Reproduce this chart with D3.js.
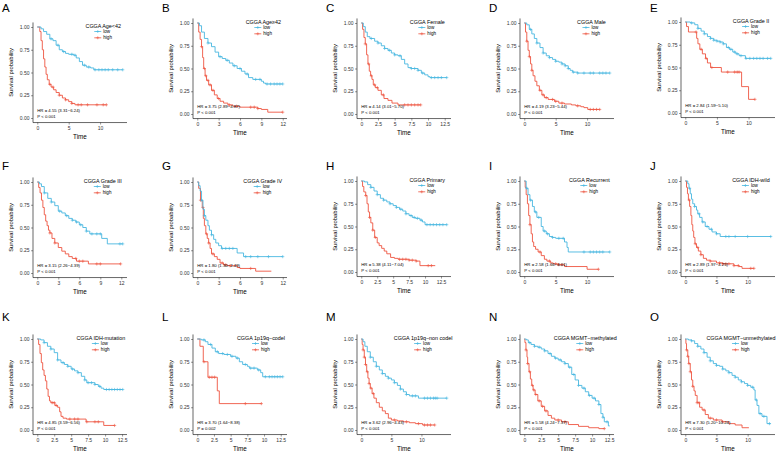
<!DOCTYPE html>
<html><head><meta charset="utf-8">
<script src="https://cdn.jsdelivr.net/npm/d3@7"></script>
<style>
html,body{margin:0;padding:0;background:#fff;}
text{font-family:"Liberation Sans",Arial,Helvetica,sans-serif;}
</style>
</head><body>
<svg id="chart" width="777" height="452"></svg>
<script>
const panelLetters = ["A","B","C","D","E","F","G","H","I","J","K","L","M","N","O"];
const legendTitles = ["CGGA Age<42","CGGA Age≥42","CGGA Female","CGGA Male","CGGA Grade II",
  "CGGA Grade III","CGGA Grade IV","CGGA Primary","CGGA Recurrent","CGGA IDH-wild",
  "CGGA IDH-mutation","CGGA 1p19q−codel","CGGA 1p19q−non codel","CGGA MGMT−methylated","CGGA MGMT−unmethylated"];
const hrLabels = ["HR = 4.55 (3.31−6.24)","HR = 3.75 (2.89−4.87)","HR = 4.14 (3.01−5.70)","HR = 4.19 (3.23−5.44)","HR = 2.84 (1.59−5.10)",
  "HR = 3.15 (2.26−4.39)","HR = 1.80 (1.30−2.49)","HR = 5.38 (4.11−7.04)","HR = 2.58 (1.66−4.01)","HR = 2.89 (1.97−4.25)",
  "HR = 4.85 (3.59−6.56)","HR = 3.70 (1.64−8.38)","HR = 3.62 (2.96−4.43)","HR = 5.58 (4.24−7.37)","HR = 7.30 (5.20−10.24)"];
const pLabels = ["P < 0.001","P < 0.001","P < 0.001","P < 0.001","P < 0.001",
  "P < 0.001","P < 0.001","P < 0.001","P < 0.001","P < 0.001",
  "P < 0.001","P = 0.002","P < 0.001","P < 0.001","P < 0.001"];
const groupNames = ["low","high"];
const yTicks = [0,0.25,0.5,0.75,1];
const t5 = [0,5,10], t3 = [0,3,6,9,12], t25 = [0,2.5,5,7.5,10,12.5];
const xTicks = [t5,t3,t25,t5,t5, t3,t3,t25,t5,t5, t25,t25,t5,t25,t5];

const lowCurves = [
 [[0,1],[0.6,0.98],[1.0,0.95],[1.5,0.92],[2.0,0.87],[2.5,0.85],[3.0,0.80],[3.5,0.75],[4.0,0.73],[4.5,0.71],[5.0,0.70],[5.8,0.69],[6.2,0.66],[6.7,0.62],[7.2,0.58],[7.8,0.56],[8.5,0.55],[9.0,0.53],[13.6,0.53]],
 [[0,1],[0.3,0.97],[0.6,0.90],[1.0,0.83],[1.5,0.78],[2.0,0.74],[2.5,0.68],[3.0,0.63],[3.5,0.61],[4.0,0.59],[4.5,0.56],[5.0,0.53],[5.6,0.50],[6.2,0.47],[6.7,0.44],[7.2,0.40],[7.8,0.38],[9.0,0.36],[9.3,0.34],[9.6,0.33],[12.0,0.33]],
 [[0,1],[0.3,0.96],[0.6,0.90],[0.9,0.85],[1.3,0.83],[2.0,0.80],[2.5,0.78],[3.0,0.75],[3.5,0.72],[4.0,0.70],[4.5,0.67],[5.0,0.65],[5.5,0.64],[6.0,0.60],[6.5,0.55],[7.0,0.51],[7.5,0.50],[8.5,0.48],[9.0,0.45],[9.5,0.43],[10.0,0.41],[10.3,0.40],[12.8,0.40]],
 [[0,1],[0.4,0.98],[0.8,0.93],[1.2,0.88],[1.6,0.83],[2.0,0.78],[2.5,0.73],[3.0,0.67],[3.5,0.64],[4.0,0.62],[4.5,0.60],[5.0,0.58],[5.5,0.57],[6.0,0.55],[6.5,0.53],[7.0,0.50],[7.3,0.48],[7.7,0.46],[8.5,0.45],[13.6,0.45]],
 [[0,1],[0.8,0.99],[1.5,0.97],[2.0,0.93],[2.5,0.90],[3.0,0.87],[3.5,0.84],[4.0,0.82],[4.5,0.80],[5.0,0.79],[5.5,0.78],[6.0,0.76],[6.5,0.72],[7.0,0.70],[7.5,0.67],[8.0,0.65],[8.5,0.63],[9.5,0.60],[13.5,0.60]],
 [[0,1],[0.3,0.98],[0.6,0.95],[1.0,0.88],[1.5,0.82],[2.0,0.78],[2.5,0.74],[3.0,0.68],[3.5,0.66],[4.0,0.63],[4.5,0.60],[5.0,0.58],[5.5,0.56],[6.0,0.53],[6.5,0.50],[7.0,0.46],[7.5,0.43],[9.2,0.38],[10.0,0.32],[12.2,0.32]],
 [[0,1],[0.2,0.96],[0.4,0.90],[0.6,0.80],[0.8,0.70],[1.0,0.63],[1.2,0.58],[1.5,0.52],[1.7,0.47],[2.0,0.42],[2.3,0.37],[2.6,0.33],[3.0,0.30],[3.4,0.27],[5.6,0.22],[6.5,0.18],[12.0,0.18]],
 [[0,1],[0.5,0.99],[1.0,0.96],[1.5,0.93],[2.0,0.89],[2.5,0.85],[3.0,0.81],[3.5,0.79],[4.0,0.77],[4.5,0.75],[5.0,0.73],[5.5,0.71],[6.0,0.69],[6.5,0.67],[7.0,0.64],[7.5,0.62],[8.0,0.60],[8.5,0.59],[9.2,0.57],[9.6,0.55],[10.0,0.52],[13.4,0.52]],
 [[0,1],[0.3,0.92],[0.6,0.85],[0.9,0.79],[1.3,0.72],[1.6,0.66],[2.0,0.60],[2.7,0.50],[3.0,0.45],[3.5,0.42],[4.0,0.39],[4.5,0.38],[5.0,0.37],[6.4,0.33],[6.8,0.27],[7.0,0.22],[13.6,0.22]],
 [[0,1],[0.4,0.97],[0.6,0.92],[0.8,0.86],[1.0,0.80],[1.2,0.75],[1.5,0.72],[1.8,0.68],[2.0,0.64],[2.3,0.60],[2.7,0.55],[3.2,0.50],[3.8,0.47],[4.3,0.44],[5.0,0.42],[5.6,0.39],[13.7,0.39]],
 [[0,1],[0.5,0.99],[1.0,0.96],[1.5,0.92],[2.0,0.89],[2.5,0.85],[3.0,0.77],[3.5,0.74],[4.0,0.72],[4.5,0.70],[5.0,0.67],[5.5,0.65],[6.0,0.63],[6.5,0.59],[7.0,0.55],[7.3,0.52],[8.5,0.50],[9.0,0.48],[9.4,0.46],[9.8,0.445],[12.6,0.445]],
 [[0,1],[0.6,0.99],[1.2,0.97],[1.6,0.94],[2.2,0.90],[2.7,0.86],[3.2,0.84],[4.0,0.83],[5.0,0.81],[5.8,0.79],[6.3,0.75],[6.8,0.72],[7.5,0.70],[7.8,0.68],[9.0,0.66],[9.5,0.63],[9.8,0.585],[12.8,0.585]],
 [[0,1],[0.3,0.97],[0.6,0.92],[1.0,0.86],[1.5,0.80],[2.0,0.75],[2.5,0.70],[3.0,0.66],[3.5,0.62],[4.0,0.59],[4.5,0.57],[5.0,0.55],[5.5,0.52],[6.0,0.49],[6.5,0.45],[7.0,0.42],[7.5,0.39],[8.0,0.375],[9.5,0.35],[14.2,0.35]],
 [[0,1],[0.3,0.99],[0.6,0.96],[1.0,0.94],[1.5,0.92],[2.0,0.91],[2.5,0.89],[3.0,0.87],[3.5,0.84],[4.0,0.81],[4.5,0.79],[5.0,0.77],[5.5,0.75],[6.0,0.73],[6.5,0.69],[7.0,0.61],[7.5,0.55],[8.0,0.49],[8.5,0.46],[9.0,0.42],[9.5,0.38],[10.0,0.35],[10.5,0.32],[11.0,0.28],[11.3,0.18],[11.6,0.14],[11.8,0.09],[12.4,0.045],[12.6,0.045]],
 [[0,1],[0.5,0.99],[1.0,0.98],[1.5,0.95],[2.0,0.92],[2.5,0.89],[3.0,0.85],[3.5,0.80],[4.0,0.76],[4.5,0.73],[5.0,0.71],[5.5,0.70],[6.0,0.67],[6.5,0.65],[7.0,0.63],[7.5,0.60],[8.0,0.58],[8.5,0.55],[9.0,0.53],[9.5,0.51],[10.0,0.49],[10.5,0.47],[11.0,0.44],[11.2,0.33],[11.5,0.27],[11.8,0.18],[12.3,0.15],[13.1,0.07],[13.7,0.07]]
];
const lowCensor = [
 [2.2,3.3,4.2,5.5,6.0,7.5,8.2,9.2,9.8,10.3,10.8,11.3,12.0,12.8,13.6],
 [1.5,3.2,4.2,5.2,6.0,7.0,8.2,8.8,9.8,10.3,10.8,11.2,11.6,12.0],
 [1.5,2.5,3.5,4.2,5.0,5.8,7.5,8.0,8.5,9.2,10.5,11.0,11.5,12.0,12.8],
 [1.0,2.0,3.0,4.0,5.0,6.0,6.5,7.0,7.8,8.5,9.5,10.5,11.0,12.0,12.5,13.0,13.6],
 [1.0,2.0,3.0,4.0,4.5,5.0,5.5,6.0,6.8,7.2,7.8,8.2,8.8,9.6,10.2,10.8,11.3,11.8,12.3,13.0,13.5],
 [1.0,2.0,3.2,4.2,5.0,5.6,6.2,7.0,7.8,8.5,9.0,11.8,12.2],
 [0.6,1.0,2.0,3.5,4.0,4.5,5.0,6.8,7.5,8.5,10.0,12.0],
 [1.5,2.5,3.5,4.5,5.5,6.2,7.0,7.8,8.3,8.8,9.4,10.3,10.8,11.3,11.8,12.3,12.8,13.4],
 [0.4,1.0,1.8,2.3,3.2,3.7,4.5,5.5,6.2,9.5,10.5,11.0,11.5,12.0,12.5,13.6],
 [0.7,1.5,2.2,2.8,3.5,4.2,5.0,6.5,7.0,8.0,10.0,13.7],
 [1.0,2.0,3.0,3.8,4.5,5.2,6.0,7.0,7.5,8.0,8.5,9.2,10.2,10.6,11.0,11.4,11.8,12.2,12.6],
 [1.0,2.0,3.0,3.8,4.5,5.2,6.0,7.2,8.0,8.5,9.2,10.2,10.8,11.2,11.6,12.0,12.4,12.8],
 [1.5,2.5,3.5,4.5,5.5,6.5,7.5,8.5,9.0,10.5,11.0,11.5,12.0,12.3,12.6,14.2],
 [0.8,1.5,2.2,3.0,3.8,4.6,5.3,6.0,6.7,7.3,8.0,8.8,9.6,10.3,11.0,11.6,12.2],
 [1.0,2.0,3.0,4.0,5.0,6.0,7.0,8.0,9.0,10.0,10.8,11.4,12.0,12.6,13.5]
];
const highCurves = [
 [[0,1],[0.4,0.95],[0.6,0.85],[0.8,0.75],[1.0,0.65],[1.2,0.56],[1.4,0.48],[1.6,0.42],[1.9,0.37],[2.2,0.34],[2.6,0.31],[3.0,0.28],[3.5,0.25],[4.0,0.22],[4.5,0.20],[5.0,0.18],[5.5,0.16],[6.0,0.145],[11.0,0.145]],
 [[0,1],[0.2,0.9],[0.4,0.82],[0.6,0.74],[0.75,0.62],[0.9,0.5],[1.1,0.42],[1.3,0.37],[1.6,0.32],[2.0,0.26],[2.4,0.21],[2.8,0.17],[3.2,0.14],[3.7,0.12],[4.3,0.10],[5.0,0.085],[6.0,0.075],[8.5,0.06],[9.0,0.05],[9.9,0.02],[12.0,0.02]],
 [[0,1],[0.2,0.93],[0.4,0.84],[0.6,0.77],[0.8,0.65],[1.0,0.55],[1.2,0.47],[1.4,0.42],[1.6,0.38],[1.8,0.32],[2.1,0.29],[2.5,0.26],[3.0,0.21],[3.4,0.17],[4.0,0.15],[4.6,0.12],[5.5,0.10],[8.9,0.10]],
 [[0,1],[0.2,0.9],[0.4,0.80],[0.6,0.70],[0.8,0.63],[1.0,0.55],[1.2,0.48],[1.4,0.42],[1.7,0.36],[2.0,0.31],[2.4,0.26],[2.8,0.21],[3.2,0.18],[3.8,0.16],[4.8,0.14],[5.5,0.12],[6.4,0.11],[7.5,0.10],[8.2,0.09],[9.0,0.08],[9.5,0.07],[10.1,0.05],[12.0,0.05]],
 [[0,1],[0.2,0.95],[0.5,0.89],[1.8,0.82],[2.0,0.76],[2.3,0.70],[2.7,0.65],[3.2,0.60],[3.5,0.55],[4.0,0.50],[5.7,0.45],[8.9,0.29],[10.0,0.15],[11.0,0.15]],
 [[0,1],[0.2,0.94],[0.4,0.88],[0.6,0.80],[0.8,0.72],[1.0,0.64],[1.2,0.57],[1.4,0.52],[1.6,0.47],[1.8,0.44],[2.1,0.38],[2.5,0.33],[3.0,0.28],[3.5,0.24],[4.0,0.21],[4.5,0.18],[5.0,0.16],[5.6,0.13],[7.3,0.10],[11.9,0.10]],
 [[0,1],[0.2,0.93],[0.45,0.80],[0.7,0.72],[0.85,0.60],[1.0,0.52],[1.2,0.43],[1.4,0.38],[1.6,0.33],[1.8,0.27],[2.0,0.21],[2.4,0.18],[2.8,0.15],[3.2,0.11],[3.7,0.09],[4.2,0.08],[5.6,0.06],[6.0,0.05],[8.2,0.02],[10.4,0.02]],
 [[0,1],[0.2,0.94],[0.4,0.88],[0.7,0.84],[0.9,0.75],[1.1,0.66],[1.3,0.60],[1.5,0.54],[1.8,0.46],[2.1,0.38],[2.5,0.32],[2.8,0.29],[3.2,0.26],[3.6,0.23],[4.0,0.20],[4.6,0.16],[5.2,0.15],[5.8,0.14],[7.5,0.13],[8.6,0.12],[9.2,0.07],[11.6,0.07]],
 [[0,1],[0.15,0.93],[0.3,0.85],[0.5,0.75],[0.7,0.62],[0.9,0.52],[1.1,0.42],[1.3,0.33],[1.5,0.28],[1.8,0.25],[2.2,0.22],[2.7,0.18],[3.2,0.14],[3.6,0.12],[4.2,0.10],[4.6,0.09],[5.3,0.08],[6.4,0.06],[10.0,0.03],[11.8,0.03]],
 [[0,1],[0.2,0.93],[0.35,0.86],[0.5,0.79],[0.7,0.72],[0.9,0.62],[1.05,0.52],[1.2,0.45],[1.35,0.38],[1.55,0.31],[1.8,0.27],[2.1,0.23],[2.5,0.19],[2.9,0.15],[3.4,0.13],[4.0,0.12],[5.0,0.10],[6.0,0.09],[7.8,0.07],[8.6,0.06],[9.1,0.04],[11.0,0.04]],
 [[0,1],[0.2,0.94],[0.4,0.84],[0.6,0.74],[0.8,0.66],[1.0,0.60],[1.2,0.54],[1.4,0.45],[1.6,0.37],[1.8,0.32],[2.0,0.30],[2.6,0.27],[3.0,0.25],[3.3,0.20],[3.5,0.15],[3.8,0.13],[4.3,0.12],[7.2,0.09],[9.8,0.05],[11.4,0.05]],
 [[0,1],[0.4,0.92],[0.9,0.75],[1.6,0.58],[3.0,0.43],[3.3,0.29],[9.6,0.29]],
 [[0,1],[0.15,0.94],[0.3,0.88],[0.5,0.80],[0.7,0.72],[0.9,0.64],[1.1,0.57],[1.3,0.51],[1.5,0.46],[1.8,0.40],[2.1,0.35],[2.5,0.30],[3.0,0.25],[3.5,0.21],[4.0,0.18],[4.5,0.13],[5.0,0.11],[6.0,0.10],[7.0,0.09],[8.0,0.08],[9.0,0.07],[10.2,0.055],[12.2,0.055]],
 [[0,1],[0.1,0.96],[0.25,0.88],[0.4,0.80],[0.5,0.73],[0.7,0.64],[0.9,0.56],[1.1,0.49],[1.3,0.44],[1.6,0.39],[2.0,0.32],[2.5,0.26],[3.0,0.21],[3.5,0.16],[4.0,0.13],[4.5,0.11],[5.5,0.09],[6.5,0.06],[8.0,0.04],[9.5,0.025],[11.0,0.015],[11.8,0.015]],
 [[0,1],[0.1,0.95],[0.2,0.88],[0.4,0.81],[0.55,0.73],[0.8,0.64],[1.0,0.55],[1.2,0.48],[1.4,0.43],[1.6,0.38],[1.9,0.30],[2.3,0.25],[2.7,0.22],[3.2,0.17],[3.7,0.13],[4.5,0.11],[5.9,0.09],[7.0,0.07],[8.0,0.055],[9.1,0.025],[10.2,0.025]]
];
const highCensor = [
 [2.0,2.5,3.5,4.5,5.5,6.5,7.0,8.0,9.5,10.5,11.0],
 [0.6,1.0,1.2,1.5,1.8,2.2,3.0,4.5,5.5,7.5,8.0,8.5,12.0],
 [0.6,1.1,1.5,2.0,2.4,3.3,6.5,7.0,7.5,8.0,8.5,8.9],
 [0.4,0.8,1.2,2.5,3.0,3.5,4.5,5.0,6.0,8.5,10.5,11.0,11.5,12.0],
 [1.7,2.5,3.3,4.2,6.7,7.8,8.2,8.5,11.0],
 [1.8,2.5,5.5,6.0,6.5,8.5,9.0,11.9],
 [0.45,0.8,1.3,1.6,2.2,3.5,4.0,4.6,7.5],
 [0.7,1.3,1.8,2.2,6.0,6.5,7.0,7.5,8.0,8.6,10.5,11.0],
 [0.9,2.5,4.0,5.0,5.5,6.0,11.8],
 [0.65,1.6,2.0,2.5,4.0,5.5,6.0,6.5,7.0,7.8,8.5,10.5,11.0],
 [2.2,2.5,2.8,4.8,5.5,6.0,7.3,8.5,9.0,11.4],
 [1.0,1.8,2.2,2.6,7.2,9.6],
 [0.3,0.5,0.7,1.0,1.3,1.6,2.0,5.5,7.5,9.5,10.5,11.0,11.5,12.2],
 [0.25,0.5,0.8,1.2,1.4,1.7,2.2,2.7,3.2,5.0,6.0,11.8],
 [0.2,0.4,0.6,0.8,1.2,1.9,2.2,3.0,4.0,5.0,6.0]
];

// ---- layout (pixels) ----
const colX = [33,193,357,520,681];
const panelTop1 = [27,23,23,23,22, 182,182,181,181,181, 339,339,339,339,339]; // pixel of S=1.00
const letterY = [12,170,321];
const W = 94, H = 91;
const colors = {low:"#47B7E0", high:"#EE5541"};

const svg = d3.select("#chart");
svg.append("rect").attr("width",777).attr("height",452).attr("fill","#fff");

function stepAt(curve, t){
  let s = curve[0][1];
  for (const p of curve){ if (p[0] <= t) s = p[1]; else break; }
  return s;
}

panelLetters.forEach((L, i) => {
  const ax = colX[i % 5];
  const y1 = panelTop1[i];
  const row = Math.floor(i / 5);
  const low = lowCurves[i], high = highCurves[i];
  const xm = d3.max([low[low.length-1][0], high[high.length-1][0]]);
  const x = d3.scaleLinear().domain([-0.05*xm, 1.05*xm]).range([ax, ax+W]);
  const y = d3.scaleLinear().domain([-0.05, 1.05]).range([y1+H+0.05*H, y1-0.05*H]);
  const g = svg.append("g");

  // panel letter
  g.append("text").attr("x", ax-31).attr("y", letterY[row]).attr("font-size", 11.5).attr("fill","#000").text(L);

  const top = y(1.05), bottom = y(-0.05);
  // axes
  const yAx = g.append("g").attr("transform",`translate(${ax},0)`)
    .call(d3.axisLeft(y).tickValues(yTicks).tickFormat(d3.format(".2f")).tickSize(2).tickPadding(1.5));
  const xAx = g.append("g").attr("transform",`translate(0,${bottom})`)
    .call(d3.axisBottom(x).tickValues(xTicks[i]).tickFormat(d => d3.format("~g")(d)).tickSize(2).tickPadding(1.5));
  [yAx,xAx].forEach(a => {
    a.select(".domain").remove();
    a.selectAll(".tick line").attr("stroke","#333").attr("stroke-width",0.5);
    a.selectAll(".tick text").attr("font-size",5).attr("fill","#333").attr("font-family","Liberation Sans, Arial, sans-serif");
  });
  g.append("line").attr("x1",ax).attr("x2",ax).attr("y1",top).attr("y2",bottom).attr("stroke","#000").attr("stroke-width",0.6);
  g.append("line").attr("x1",ax).attr("x2",ax+W).attr("y1",bottom).attr("y2",bottom).attr("stroke","#000").attr("stroke-width",0.6);

  // axis titles
  g.append("text").attr("transform",`translate(${ax-20},${(top+bottom)/2}) rotate(-90)`)
    .attr("text-anchor","middle").attr("font-size",5.8).attr("fill","#000").text("Survival probability");
  g.append("text").attr("x", ax+W/2).attr("y", bottom+16).attr("text-anchor","middle")
    .attr("font-size",6.3).attr("fill","#000").text("Time");

  // curves
  const line = d3.line().x(d => x(d[0])).y(d => y(d[1])).curve(d3.curveStepAfter);
  [[high, highCensor[i], colors.high],[low, lowCensor[i], colors.low]].forEach(([c, cens, col]) => {
    g.append("path").attr("d", line(c)).attr("fill","none").attr("stroke",col).attr("stroke-width",0.9);
    const cs = 1.6;
    g.selectAll(null).data(cens).enter().append("path")
      .attr("d", t => { const px = x(t), py = y(stepAt(c,t));
        return `M${px-cs},${py}H${px+cs}M${px},${py-cs}V${py+cs}`; })
      .attr("stroke", col).attr("stroke-width",0.6).attr("fill","none");
  });

  // HR / P
  g.append("text").attr("x", x(0)).attr("y", y(0.07)).attr("font-size",4.3).attr("fill","#000").text(hrLabels[i]);
  g.append("text").attr("x", x(0)).attr("y", y(0.0)).attr("font-size",4.3).attr("fill","#000").text(pLabels[i]);

  // legend
  const lg = g.append("g");
  const title = lg.append("text").attr("font-size",5.4).attr("fill","#000").attr("text-anchor","middle").text(legendTitles[i]);
  const tw = title.node().getComputedTextLength();
  const cx = Math.min(ax + 70 - 0.18*(tw-37), 775.5 - tw/2);
  title.attr("x", cx).attr("y", y1+0.5);
  const keyL = cx - 9;
  groupNames.forEach((nm, k) => {
    const col = k === 0 ? colors.low : colors.high;
    const ky = y1 + 4.5 + k*6.3;
    lg.append("line").attr("x1",keyL).attr("x2",keyL+7).attr("y1",ky).attr("y2",ky).attr("stroke",col).attr("stroke-width",0.8);
    lg.append("path").attr("d",`M${keyL+3.5-1.5},${ky}H${keyL+3.5+1.5}M${keyL+3.5},${ky-1.5}V${ky+1.5}`).attr("stroke",col).attr("stroke-width",0.6);
    lg.append("text").attr("x",keyL+9).attr("y",ky+1.6).attr("font-size",4.6).attr("fill","#000").text(nm);
  });
});
</script>
</body></html>
